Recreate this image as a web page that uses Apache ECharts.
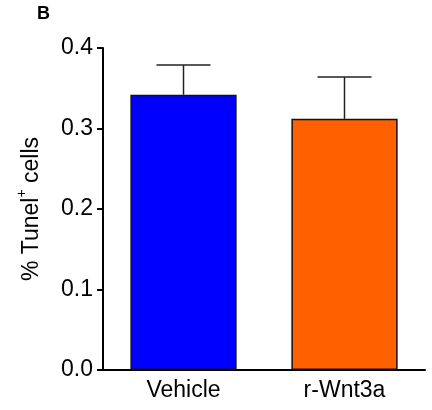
<!DOCTYPE html>
<html><head><meta charset="utf-8">
<script src="https://cdn.jsdelivr.net/npm/echarts@6/dist/echarts.min.js"></script>
<style>html,body{margin:0;padding:0;background:#fff}#c{width:432px;height:410px}</style>
</head><body><div id="c"></div>
<script>
const categories = ['Vehicle', 'r-Wnt3a'];
const means = [0.342, 0.312];
const errors = [0.037, 0.052];
const barColors = ['#0000FF', '#FF6000'];
const yTicks = [0, 0.1, 0.2, 0.3, 0.4];

const chart = echarts.init(document.getElementById('c'));
const font = 'Liberation Sans, Arial, sans-serif';
chart.setOption({
  animation: false,
  backgroundColor: '#fff',
  title: { text: 'B', left: 32, top: 0, textStyle: { fontFamily: font, fontSize: 18, fontWeight: 'bold', color: '#000' } },
  grid: { left: 103, right: 7, top: 48, bottom: 40 },
  xAxis: {
    type: 'category', data: categories,
    axisLine: { lineStyle: { color: '#000', width: 2 } },
    axisTick: { alignWithLabel: true, length: 7, lineStyle: { color: '#000', width: 2 } },
    axisLabel: { fontFamily: font, fontSize: 23, color: '#000', margin: 9 }
  },
  yAxis: {
    type: 'value', min: 0, max: 0.4, interval: 0.1,
    name: '{a|% Tunel}{s|+}{a| cells}', nameLocation: 'middle', nameGap: 54, nameRotate: 90,
    nameTextStyle: { rich: {
      a: { fontFamily: font, fontSize: 23, lineHeight: 34, color: '#000' },
      s: { fontFamily: font, fontSize: 14, lineHeight: 14, color: '#000', verticalAlign: 'top' }
    } },
    axisLine: { show: true, lineStyle: { color: '#000', width: 2 } },
    axisTick: { show: true, length: 6, lineStyle: { color: '#000', width: 2 } },
    splitLine: { show: false },
    axisLabel: { fontFamily: font, fontSize: 23, color: '#000', margin: 10, formatter: v => v.toFixed(1) }
  },
  series: [
    {
      type: 'bar', barWidth: '66%',
      data: means.map((v, i) => ({ value: v, itemStyle: { color: barColors[i] } })),
      itemStyle: { borderColor: '#111', borderWidth: 1.5 }
    },
    {
      type: 'custom', z: 1,
      data: means.map((v, i) => [i, v, v + errors[i]]),
      renderItem: function (params, api) {
        const base = api.coord([api.value(0), api.value(1)]);
        const top = api.coord([api.value(0), api.value(2)]);
        const hw = 27;
        return { type: 'group', children: [
          { type: 'line', shape: { x1: base[0], y1: base[1], x2: top[0], y2: top[1] }, style: { stroke: '#222', lineWidth: 1.5 } },
          { type: 'line', shape: { x1: top[0] - hw, y1: top[1], x2: top[0] + hw, y2: top[1] }, style: { stroke: '#222', lineWidth: 1.5 } }
        ] };
      }
    }
  ]
});
</script></body></html>
